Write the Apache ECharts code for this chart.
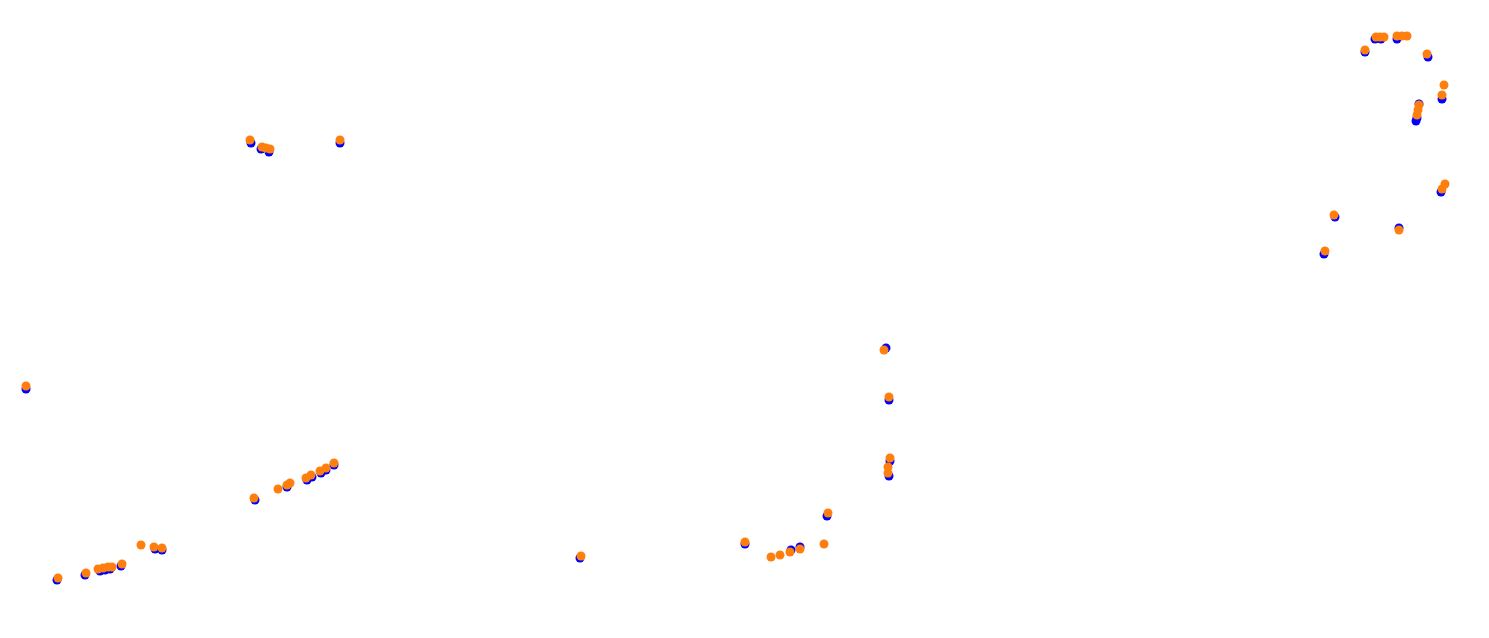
<!DOCTYPE html>
<html>
<head>
<meta charset="utf-8">
<script src="https://cdn.jsdelivr.net/npm/echarts@6/dist/echarts.min.js"></script>
<style>html,body{margin:0;padding:0;background:#fff}#c{width:1489px;height:638px}</style>
</head>
<body>
<div id="c"></div>
<script>
const blueSeries = [
  [26,389],[57,580],[85,575],[100,571],[105,570],[110,569],[121,566],[155,549],[162,550],
  [251,143],[261,149],[269,152],[340,143],
  [255,500],[287,487],[307,480],[312,477],[321,473],[326,470],[334,465],
  [580,558],
  [745,544],[791,550],[800,547],[827,516],
  [886,348],[889,400],[890,461],[889,476],
  [1324,254],[1335,217],[1365,52],[1375,39],[1381,39],[1397,39],[1399,228],
  [1416,121],[1417,118],[1419,104],[1428,57],[1442,99],[1441,192]
];
const orangeSeries = [
  [26,386],[58,578],[86,573],[98,569],[103,568],[108,567],[112,567],[122,564],[141,545],[154,547],[162,548],
  [250,140],[262,147],[266,148],[270,149],[340,140],
  [254,498],[278,489],[287,485],[290,483],[306,478],[311,475],[320,471],[326,468],[334,463],
  [581,556],
  [745,542],[771,557],[780,555],[790,552],[800,549],[824,544],[828,513],
  [884,350],[889,397],[890,458],[888,467],[888,473],
  [1325,251],[1334,215],[1365,50],[1376,37],[1380,37],[1384,37],[1397,36],[1402,36],[1407,36],[1399,230],
  [1417,115],[1418,110],[1419,105],[1427,54],[1444,85],[1442,95],[1442,189],[1445,184]
];
const chart = echarts.init(document.getElementById('c'));
chart.setOption({
  animation:false,
  grid:{left:0,right:0,top:0,bottom:0},
  xAxis:{type:'value',min:0,max:1489,show:false},
  yAxis:{type:'value',min:0,max:638,inverse:true,show:false},
  series:[
    {type:'scatter',data:blueSeries,symbolSize:9,itemStyle:{color:'#0000ff',opacity:1}},
    {type:'scatter',data:orangeSeries,symbolSize:9,itemStyle:{color:'#ff7f0e',opacity:1}}
  ]
});
</script>
</body>
</html>
